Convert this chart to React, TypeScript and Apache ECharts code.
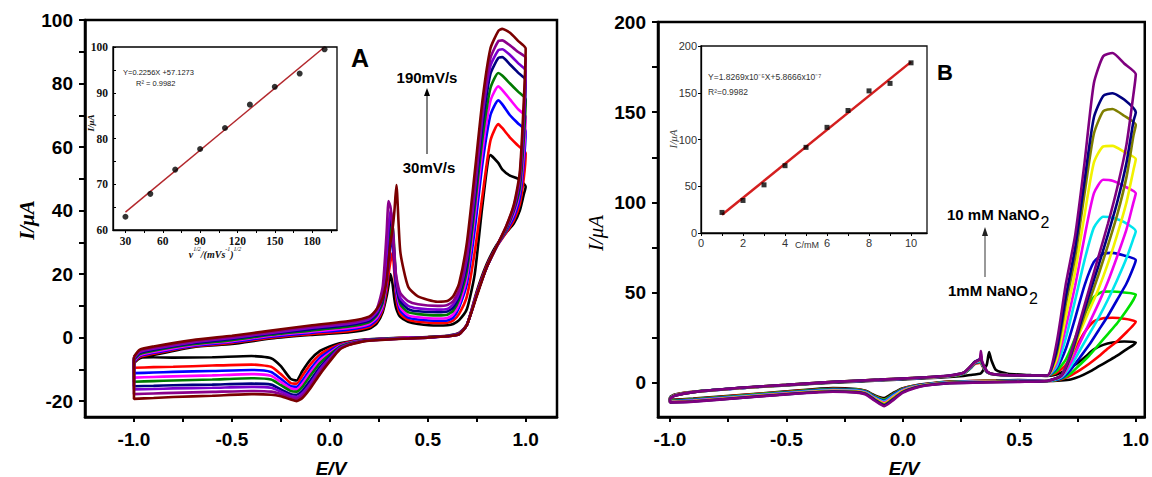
import React, { useEffect, useRef } from 'react';
import * as echarts from 'echarts';

const SANS = '"Liberation Sans", Arial, Helvetica, sans-serif';
const SERIF = '"Liberation Serif", "Times New Roman", serif';

// ---------------- Panel A : scan rates 30..190 mV/s ----------------
const A_RATES = ['30 mV/s', '50 mV/s', '70 mV/s', '90 mV/s', '110 mV/s', '130 mV/s', '150 mV/s', '170 mV/s', '190 mV/s'];
const A_COLORS = ['#000000', '#ff0000', '#0000ff', '#ff00ff', '#007a00', '#000080', '#7b00d0', '#8b008b', '#7a0000'];
// forward (anodic) sweep potentials, V
const A_E_FWD = [-1.0, -0.97, -0.9, -0.7, -0.5, -0.3, -0.1, 0.1, 0.2, 0.24, 0.27, 0.29, 0.3, 0.31, 0.32, 0.33, 0.34, 0.36, 0.4, 0.45, 0.55, 0.6, 0.63, 0.66, 0.7, 0.74, 0.78, 0.82, 0.86, 0.88, 0.92, 0.96, 1.0];
// reverse (cathodic) sweep potentials, V
const A_E_REV = [0.99, 0.97, 0.94, 0.9, 0.85, 0.8, 0.75, 0.7, 0.66, 0.6, 0.5, 0.4, 0.3, 0.2, 0.15, 0.1, 0.05, 0.0, -0.05, -0.1, -0.14, -0.17, -0.2, -0.25, -0.3, -0.4, -0.6, -0.8, -0.9, -1.0];
const A_FWD = [
  [-8, -6.5, -5.5, -3, -2, -0.3, 0.8, 1.7, 2.8, 4.5, 8, 13, 16.5, 20, 17, 12, 9, 6.5, 5, 4.3, 3.8, 3.9, 4.3, 5.5, 9, 20, 42, 57.5, 55, 53, 51, 50, 47.5],
  [-7.8, -6.1, -5.1, -2.8, -1.7, 0, 1.1, 2.1, 3.3, 5.2, 8.8, 15, 20, 24, 26.7, 20, 12, 7.5, 5.6, 5, 4.6, 4.7, 5.4, 7.5, 13, 27, 45, 62, 67.2, 66, 63, 60.5, 58],
  [-7.6, -5.8, -4.8, -2.6, -1.4, 0.3, 1.5, 2.6, 3.8, 5.8, 9.5, 17, 23, 28.5, 30.5, 23, 14, 8.5, 6.3, 5.7, 5.3, 5.4, 6.3, 9.5, 17, 34, 55, 70, 74.7, 73.5, 70, 67.5, 65],
  [-7.3, -5.5, -4.5, -2.4, -1.1, 0.6, 1.8, 3.0, 4.3, 6.3, 10, 18, 25, 31, 33, 25, 15.5, 9.5, 7, 6.4, 6, 6.2, 7.3, 10.5, 19, 38, 59, 74.5, 79.1, 78, 75, 72, 69.5],
  [-7, -5.2, -4.1, -2.1, -0.8, 0.9, 2.2, 3.5, 4.8, 7, 11, 20, 28, 34, 36, 27, 17, 10.5, 8, 7.4, 7, 7.2, 8.5, 12, 21, 41, 63, 78.5, 83.3, 82.5, 80, 77.5, 75],
  [-6.8, -4.8, -3.8, -1.8, -0.4, 1.2, 2.6, 4.0, 5.3, 7.5, 12, 24, 33, 38, 34, 24, 16.5, 11.5, 9, 8.3, 8, 8.2, 9.5, 13, 23, 44, 67, 83, 88, 88.3, 86, 83.5, 81],
  [-6.5, -4.5, -3.5, -1.5, -0.1, 1.5, 3.0, 4.4, 5.8, 8, 13, 26, 35, 40, 36, 26, 18, 12.5, 10, 9.2, 8.8, 9, 10.5, 14, 25, 46, 70, 85.5, 90.5, 90.8, 89, 86.5, 84],
  [-6.2, -4.2, -3.2, -1.2, 0.2, 1.8, 3.4, 4.8, 6.2, 9, 16, 33, 43, 41, 35, 25, 19, 14, 11.5, 10.5, 10, 10.3, 11.5, 15, 26, 48, 72, 88, 93.3, 93.6, 92, 90, 88],
  [-6, -3.8, -2.8, -0.8, 0.6, 2.2, 3.8, 5.2, 6.6, 9, 12.5, 18, 24, 30, 34, 40, 48, 27, 16, 13, 11.3, 11.5, 13, 17, 30, 52, 75, 91, 96.5, 97.2, 96, 93.5, 91],
];
const A_REV = [
  [45, 40, 36, 33, 29, 23, 14.5, 4, 1.5, 0.6, 0.2, 0, -0.2, -0.5, -0.8, -1.2, -1.8, -2.8, -4.2, -7, -10.5, -13.5, -13, -9, -6.5, -5.8, -6.2, -6.3, -6.2, -6.5],
  [50, 42, 37, 33, 28.5, 22.5, 14, 4, 1.4, 0.5, 0.2, 0, -0.3, -0.6, -0.9, -1.4, -2.2, -3.5, -5.3, -8.5, -12, -14.5, -14.3, -11.5, -9.2, -8.5, -8.8, -9.2, -9.3, -9.5],
  [55, 44, 38, 33.5, 28.5, 22, 13.5, 4, 1.3, 0.5, 0.1, -0.1, -0.3, -0.7, -1, -1.6, -2.5, -4.2, -6.3, -10, -13.5, -15.5, -15.3, -13, -10.8, -10.2, -10.5, -10.8, -11, -11.2],
  [58, 46, 39, 34, 28.5, 22, 13.5, 4, 1.2, 0.5, 0.1, -0.1, -0.4, -0.7, -1.1, -1.7, -2.7, -4.8, -7.2, -11, -14.5, -16.3, -16, -14, -12, -11.5, -11.9, -12.2, -12.4, -12.6],
  [62, 47, 40, 34, 28.5, 22, 13.5, 4, 1.2, 0.5, 0.1, -0.2, -0.4, -0.8, -1.2, -1.8, -2.9, -5.3, -8, -12, -15.5, -17, -16.8, -15, -13.2, -12.8, -13.2, -13.5, -13.7, -13.9],
  [66, 49, 40.5, 34.5, 28.5, 22, 13.5, 4, 1.1, 0.4, 0.1, -0.2, -0.5, -0.8, -1.3, -2, -3.2, -6, -9.3, -13.5, -16.8, -18, -17.8, -16.3, -14.8, -14.5, -14.8, -15, -15.2, -15.3],
  [68, 50, 41, 34.5, 28.5, 22, 13.5, 4, 1.1, 0.4, 0, -0.2, -0.5, -0.9, -1.4, -2.1, -3.4, -6.5, -10, -14.5, -17.5, -18.7, -18.4, -17, -15.8, -15.5, -15.8, -16, -16.2, -16.3],
  [70, 51, 41.5, 35, 28.5, 22, 13.5, 4, 1, 0.4, 0, -0.3, -0.5, -0.9, -1.4, -2.2, -3.6, -7, -10.8, -15.3, -18.3, -19.3, -19, -17.8, -17, -16.8, -17.1, -17.4, -17.6, -17.8],
  [74, 52, 42, 35, 28.5, 22, 13, 4, 1, 0.4, 0, -0.3, -0.6, -1, -1.5, -2.3, -3.8, -7.5, -11.5, -16, -19, -20, -19.5, -18.5, -18, -17.8, -18.3, -18.7, -19, -19.3],
];

// ---------------- Panel B : NaNO2 1..10 mM ----------------
const B_CONC = ['1 mM', '2 mM', '3 mM', '4 mM', '5 mM', '6 mM', '7 mM', '8 mM', '9 mM', '10 mM'];
const B_COLORS = ['#000000', '#ff0000', '#00e000', '#0000cd', '#00e5ee', '#ee00ee', '#f2f200', '#7f7f00', '#00007f', '#7f007f'];
const B_E_FWD = [-1.0, -0.98, -0.9, -0.7, -0.5, -0.3, -0.1, 0.1, 0.2, 0.26, 0.29, 0.31, 0.33, 0.335, 0.34, 0.36, 0.37, 0.38, 0.4, 0.45, 0.55, 0.62, 0.66, 0.7, 0.74, 0.78, 0.82, 0.86, 0.9, 0.95, 1.0];
const B_E_REV = [0.99, 0.96, 0.92, 0.88, 0.84, 0.8, 0.76, 0.72, 0.68, 0.62, 0.5, 0.4, 0.3, 0.2, 0.1, 0.05, 0.0, -0.04, -0.08, -0.12, -0.16, -0.2, -0.3, -0.5, -0.7, -0.9, -1.0];
const B_FWD = [
  [-8, -6.5, -5, -3, -1.5, 0, 1.2, 2.5, 3.2, 3.8, 4.3, 4.6, 5, 5.3, 6, 10, 17, 12.5, 7, 5, 4.2, 3.8, 4.5, 7, 10, 14, 18.5, 21, 22.3, 22.9, 22.5],
  [-8.2, -6.7, -5, -2.9, -1.3, 0.3, 1.5, 2.8, 3.6, 5, 8, 10.5, 11, 12, 9.5, 6, 5.2, 4.8, 4.5, 4.1, 3.9, 3.9, 5.5, 10, 19, 28, 34, 35.8, 36, 35.5, 34],
  [-8.3, -6.8, -5.1, -3, -1.3, 0.3, 1.5, 2.8, 3.6, 5, 8, 10.8, 11.5, 12.5, 10, 6, 5.2, 4.8, 4.5, 4.1, 3.9, 3.9, 6.5, 13, 25, 38, 47.5, 50.5, 50.6, 50, 49],
  [-8.4, -6.9, -5.1, -3, -1.3, 0.3, 1.5, 2.8, 3.7, 5.1, 8.2, 11, 11.8, 13, 10.2, 6, 5.2, 4.8, 4.5, 4.1, 3.9, 3.9, 8, 19, 36, 54, 67, 71.5, 72, 70.5, 68],
  [-8.5, -7, -5.2, -3, -1.3, 0.4, 1.6, 2.9, 3.8, 5.2, 8.4, 11.2, 12, 13.5, 10.4, 6.1, 5.3, 4.9, 4.6, 4.2, 4, 4, 9, 25, 46, 68, 86, 92, 91.5, 89, 84],
  [-8.6, -7, -5.2, -3, -1.3, 0.4, 1.6, 2.9, 3.8, 5.3, 8.6, 11.4, 12.5, 16, 11, 6.2, 5.3, 4.9, 4.6, 4.2, 4, 4, 11, 31, 54, 81, 105, 112.5, 112, 109, 105],
  [-8.6, -7.1, -5.2, -2.9, -1.2, 0.5, 1.7, 3, 3.9, 5.4, 8.8, 11.5, 12.5, 14, 10.8, 6.2, 5.4, 5, 4.6, 4.2, 4, 4, 13, 37, 62, 93, 122, 131, 131.3, 128, 124],
  [-8.7, -7.1, -5.2, -2.9, -1.2, 0.5, 1.7, 3, 3.9, 5.5, 9, 11.7, 12.8, 14.5, 11, 6.3, 5.4, 5, 4.6, 4.2, 4, 4, 16, 44, 70, 105, 138, 150.5, 151.8, 148, 143],
  [-8.7, -7.2, -5.2, -2.8, -1.2, 0.5, 1.7, 3, 4, 5.5, 9, 11.8, 13, 15, 11.2, 6.4, 5.5, 5, 4.6, 4.2, 4, 4, 18, 48, 75, 112, 147, 159, 160.5, 157, 150],
  [-8.8, -7.2, -5.2, -2.8, -1.2, 0.5, 1.7, 3, 4, 5.5, 9, 11.5, 13, 17.5, 12, 6.5, 5.5, 5, 4.6, 4.2, 4, 4, 22, 55, 82, 122, 166, 181, 182.8, 177, 171],
];
const B_REV = [
  [21, 18.5, 15, 12, 9, 6, 3.5, 1.8, 1.3, 1, 1.5, 1.2, 1, 0.6, -0.6, -1.5, -3, -5.5, -8.5, -7, -4.5, -3.5, -3, -4.8, -6.8, -8.8, -9.5],
  [32, 28, 23, 19, 14.5, 10.5, 7, 4, 2, 1, 1.3, 1.1, 0.9, 0.5, -0.7, -1.7, -3.3, -6, -9.3, -7.5, -4.7, -3.7, -3.3, -5, -7, -9, -9.8],
  [46, 40, 33, 27, 21, 15, 10, 5, 2.2, 1, 1.2, 1, 0.8, 0.4, -0.8, -1.8, -3.5, -6.2, -9.5, -7.6, -4.8, -3.8, -3.5, -5.2, -7.2, -9.2, -10],
  [64, 55, 46, 37, 29, 21, 14, 7, 2.5, 1, 1.1, 0.9, 0.7, 0.3, -0.9, -2, -3.7, -6.5, -10, -8, -5, -4, -3.8, -5.5, -7.5, -9.5, -10.3],
  [80, 69, 57, 46, 36, 27, 18, 9, 3, 1, 1, 0.8, 0.6, 0.2, -1, -2.1, -4, -7, -10.5, -8.3, -5.3, -4.3, -4, -5.7, -7.7, -9.7, -10.5],
  [100, 85, 70, 56, 44, 33, 22, 11, 3.5, 1, 0.9, 0.7, 0.5, 0.1, -1.1, -2.3, -4.3, -7.5, -11, -8.7, -5.6, -4.6, -4.3, -5.9, -7.9, -9.9, -10.6],
  [118, 100, 82, 66, 52, 40, 28, 14, 4, 1, 0.8, 0.6, 0.4, 0, -1.2, -2.5, -4.6, -8, -11.5, -9, -5.8, -4.8, -4.5, -6.1, -8.1, -10.1, -10.7],
  [137, 114, 93, 76, 60, 45, 30, 14, 4, 1, 0.7, 0.5, 0.3, -0.1, -1.3, -2.7, -4.9, -8.5, -12, -9.3, -6, -5, -4.7, -6.3, -8.3, -10.3, -10.8],
  [145, 122, 100, 82, 65, 49, 32, 15, 4, 1, 0.6, 0.4, 0.1, -0.2, -1.4, -2.8, -5.2, -9, -12.5, -9.6, -6.2, -5.2, -4.9, -6.4, -8.4, -10.4, -10.9],
  [160, 132, 108, 88, 70, 52, 34, 16, 4, 1, 0.5, 0.3, 0, -0.3, -1.5, -3, -5.5, -9.5, -13, -10, -6.5, -5.5, -5, -6.5, -8.5, -10.5, -11],
];

// ---------------- Insets ----------------
const IA_X = [30, 50, 70, 90, 110, 130, 150, 170, 190];
const IA_Y = [62.9, 67.9, 73.2, 77.7, 82.3, 87.4, 91.3, 94.2, 99.5];
const IA_FIT_X = [30, 190];
const IA_FIT_Y = [63.9, 100.0];
const IB_X = [1, 2, 3, 4, 5, 6, 7, 8, 9, 10];
const IB_Y = [22, 34.8, 51.5, 72, 91.6, 113, 131, 152, 160, 182];
const IB_FIT_X = [1, 10];
const IB_FIT_Y = [19.5, 183];

// ---------------- Ticks ----------------
const E_LABELS = [-1, -0.5, 0, 0.5, 1];
const E_TICKS = [-1, -0.75, -0.5, -0.25, 0, 0.25, 0.5, 0.75, 1];
const A_Y_LABELS = [-20, 0, 20, 40, 60, 80, 100];
const A_Y_TICKS = [-20, -10, 0, 10, 20, 30, 40, 50, 60, 70, 80, 90, 100];
const B_Y_LABELS = [0, 50, 100, 150, 200];
const B_Y_TICKS = [0, 25, 50, 75, 100, 125, 150, 175, 200];
const IA_X_LABELS = [30, 60, 90, 120, 150, 180];
const IA_X_TICKS = [30, 45, 60, 75, 90, 105, 120, 135, 150, 165, 180, 195];
const IA_Y_LABELS = [60, 70, 80, 90, 100];
const IA_Y_TICKS = [60, 65, 70, 75, 80, 85, 90, 95, 100];
const IB_X_LABELS = [0, 2, 4, 6, 8, 10];
const IB_X_TICKS = [0, 1, 2, 3, 4, 5, 6, 7, 8, 9, 10];
const IB_Y_LABELS = [0, 50, 100, 150, 200];

function loop(eF: number[], iF: number[], eR: number[], iR: number[]) {
  const pts: number[][] = eF.map((e, i) => [e, iF[i]]);
  eR.forEach((e, i) => pts.push([e, iR[i]]));
  pts.push(pts[0]);
  return pts;
}

function mainAxis(grid: number, pos: string, min: number, max: number, ticks: number[], labels: number[], isX: boolean, fmt: (v: number) => string) {
  return {
    gridIndex: grid, type: 'value', position: pos, min, max,
    axisLine: { show: true, onZero: false, lineStyle: { color: '#000', width: 2.5 } },
    axisTick: { show: true, customValues: ticks, length: isX ? 5 : 6, lineStyle: { color: '#000', width: 2 } },
    axisLabel: { customValues: labels, formatter: fmt, color: '#000', fontSize: 19, fontWeight: 'bold', fontFamily: SANS, margin: isX ? 13 : 12 },
    splitLine: { show: false },
  };
}
function insetAxis(grid: number, pos: string, min: number, max: number, ticks: number[], labels: number[], inside: boolean, lab: any) {
  return {
    gridIndex: grid, type: 'value', position: pos, min, max,
    axisLine: { show: true, onZero: false, lineStyle: { color: '#000', width: 1.3 } },
    axisTick: { show: true, inside, customValues: ticks, length: 3, lineStyle: { color: '#000', width: 1 } },
    axisLabel: { customValues: labels, ...lab },
    splitLine: { show: false },
  };
}

function buildOption() {
  const f1 = (v: number) => v.toFixed(1);
  const f0 = (v: number) => String(v);
  const iaLab = { fontFamily: SERIF, fontWeight: 'bold', fontSize: 11.5, color: '#111', margin: 5, formatter: f0 };
  const ibLab = { fontFamily: SANS, fontSize: 11, color: '#333', margin: 4, formatter: f0 };

  const series: any[] = [];
  A_FWD.forEach((arr, k) => {
    series.push({
      type: 'line', name: A_RATES[k], xAxisIndex: 0, yAxisIndex: 0,
      data: loop(A_E_FWD, arr, A_E_REV, A_REV[k]),
      showSymbol: false, smooth: 0.2, lineStyle: { color: A_COLORS[k], width: 2.6 }, itemStyle: { color: A_COLORS[k] },
    });
  });
  B_FWD.forEach((arr, k) => {
    series.push({
      type: 'line', name: B_CONC[k], xAxisIndex: 1, yAxisIndex: 1,
      data: loop(B_E_FWD, arr, B_E_REV, B_REV[k]),
      showSymbol: false, smooth: 0.2, lineStyle: { color: B_COLORS[k], width: 2.6 }, itemStyle: { color: B_COLORS[k] },
    });
  });
  series.push({
    type: 'line', xAxisIndex: 2, yAxisIndex: 2, data: IA_FIT_X.map((x, i) => [x, IA_FIT_Y[i]]),
    showSymbol: false, lineStyle: { color: '#b3282d', width: 1.5 }, z: 3,
  });
  series.push({
    type: 'scatter', xAxisIndex: 2, yAxisIndex: 2, data: IA_X.map((x, i) => [x, IA_Y[i]]),
    symbol: 'circle', symbolSize: 6, itemStyle: { color: '#000' }, z: 4,
  });
  series.push({
    type: 'line', xAxisIndex: 3, yAxisIndex: 3, data: IB_FIT_X.map((x, i) => [x, IB_FIT_Y[i]]),
    showSymbol: false, lineStyle: { color: '#d41f1f', width: 2.5 }, z: 3,
  });
  series.push({
    type: 'scatter', xAxisIndex: 3, yAxisIndex: 3, data: IB_X.map((x, i) => [x, IB_Y[i]]),
    symbol: 'rect', symbolSize: 5, itemStyle: { color: '#000' }, z: 4,
  });

  const txt = (x: number, y: number, style: any, extra: any = {}) => ({ type: 'text', x, y, z: 100, style, ...extra });
  const subRich = {
    m: { fontFamily: SANS, fontWeight: 'bold', fontSize: 15, fill: '#000', verticalAlign: 'top' },
    s: { fontFamily: SANS, fontSize: 16, fill: '#000', verticalAlign: 'top', padding: [7, 0, 0, 1] },
  };

  const graphic: any[] = [
    // main axis titles
    txt(27, 220, { text: 'I/μA', font: `italic bold 21px ${SERIF}`, fill: '#000', align: 'center', verticalAlign: 'middle' }, { rotation: Math.PI / 2 }),
    txt(596, 233, { text: 'I/μA', font: `italic 21px ${SERIF}`, fill: '#000', align: 'center', verticalAlign: 'middle' }, { rotation: Math.PI / 2 }),
    txt(331, 468, { text: 'E/V', font: `italic bold 19px ${SANS}`, fill: '#000', align: 'center', verticalAlign: 'middle' }),
    txt(904, 468, { text: 'E/V', font: `italic bold 19px ${SANS}`, fill: '#000', align: 'center', verticalAlign: 'middle' }),
    // panel letters
    txt(360, 58, { text: 'A', font: `bold 25px ${SANS}`, fill: '#000', align: 'center', verticalAlign: 'middle' }),
    txt(945, 72, { text: 'B', font: `bold 22px ${SANS}`, fill: '#000', align: 'center', verticalAlign: 'middle' }),
    // scan rate annotations
    txt(427, 77, { text: '190mV/s', font: `bold 15px ${SANS}`, fill: '#000', align: 'center', verticalAlign: 'middle' }),
    txt(429, 167, { text: '30mV/s', font: `bold 15px ${SANS}`, fill: '#000', align: 'center', verticalAlign: 'middle' }),
    { type: 'line', z: 100, shape: { x1: 427, y1: 154, x2: 427, y2: 95 }, style: { stroke: '#000', lineWidth: 1 } },
    { type: 'polygon', z: 100, shape: { points: [[424, 96], [430, 96], [427, 88]] }, style: { fill: '#000' } },
    // concentration annotations
    txt(947, 207, { text: '{m|10 mM NaNO}{s|2}', rich: subRich }),
    txt(948, 283, { text: '{m|1mM NaNO}{s|2}', rich: subRich }),
    { type: 'line', z: 100, shape: { x1: 985, y1: 277, x2: 985, y2: 235 }, style: { stroke: '#555', lineWidth: 1.2 } },
    { type: 'polygon', z: 100, shape: { points: [[982, 236], [988, 236], [985, 227]] }, style: { fill: '#222' } },
    // inset A texts
    txt(123, 72, { text: 'Y=0.2256X +57.1273', font: `7.5px ${SANS}`, fill: '#222', align: 'left', verticalAlign: 'middle' }),
    txt(136, 83, { text: 'R² = 0.9982', font: `7.5px ${SANS}`, fill: '#222', align: 'left', verticalAlign: 'middle' }),
    txt(91, 123, { text: 'I/μA', font: `italic bold 9px ${SERIF}`, fill: '#111', align: 'center', verticalAlign: 'middle' }, { rotation: Math.PI / 2 }),
    txt(215, 246, {
      text: '{v|ν}{s|1/2}{v|/(mVs}{s|-1}{v|)}{s|1/2}',
      rich: {
        v: { fontFamily: SERIF, fontStyle: 'italic', fontWeight: 'bold', fontSize: 10, fill: '#111', verticalAlign: 'top', padding: [3, 0, 0, 0] },
        s: { fontFamily: SERIF, fontStyle: 'italic', fontSize: 6, fill: '#111', verticalAlign: 'top' },
      },
      align: 'center',
    }),
    // inset B texts
    txt(708, 77, { text: 'Y=1.8269x10⁻⁵X+5.8666x10⁻⁷', font: `8.5px ${SANS}`, fill: '#333', align: 'left', verticalAlign: 'middle' }),
    txt(708, 92, { text: 'R²=0.9982', font: `8.5px ${SANS}`, fill: '#333', align: 'left', verticalAlign: 'middle' }),
    txt(673, 139, { text: 'I/μA', font: `italic 11px ${SERIF}`, fill: '#444', align: 'center', verticalAlign: 'middle' }, { rotation: Math.PI / 2 }),
    txt(807, 245, { text: 'C/mM', font: `9px ${SANS}`, fill: '#333', align: 'center', verticalAlign: 'middle' }),
  ];

  return {
    animation: false,
    backgroundColor: '#fff',
    grid: [
      { left: 85, top: 20, width: 472, height: 397, show: true, borderColor: '#000', borderWidth: 2.5, backgroundColor: 'transparent' },
      { left: 658, top: 22, width: 487, height: 395, show: true, borderColor: '#000', borderWidth: 2.5, backgroundColor: 'transparent' },
      { left: 113, top: 47, width: 224, height: 183, show: true, borderColor: '#000', borderWidth: 1.3, backgroundColor: '#fff' },
      { left: 701, top: 46, width: 226, height: 187, show: true, borderColor: '#111', borderWidth: 1.3, backgroundColor: '#fff' },
    ],
    xAxis: [
      mainAxis(0, 'bottom', -1.25, 1.16, E_TICKS, E_LABELS, true, f1),
      mainAxis(1, 'bottom', -1.0515, 1.0385, E_TICKS, E_LABELS, true, f1),
      insetAxis(2, 'bottom', 20, 200, IA_X_TICKS, IA_X_LABELS, false, iaLab),
      insetAxis(3, 'bottom', 0, 10.76, IB_X_TICKS, IB_X_LABELS, false, ibLab),
    ],
    yAxis: [
      mainAxis(0, 'left', -25, 100, A_Y_TICKS, A_Y_LABELS, false, f0),
      mainAxis(1, 'left', -19, 200, B_Y_TICKS, B_Y_LABELS, false, f0),
      insetAxis(2, 'left', 60, 100, IA_Y_TICKS, IA_Y_LABELS, true, iaLab),
      insetAxis(3, 'left', 0, 200, IB_Y_LABELS, IB_Y_LABELS, false, ibLab),
    ],
    series,
    graphic,
  };
}

export default function App() {
  const ref = useRef<HTMLDivElement>(null);
  useEffect(() => {
    if (!ref.current) return;
    const chart = echarts.init(ref.current, null, { renderer: 'svg' });
    chart.setOption(buildOption() as any);
    return () => chart.dispose();
  }, []);
  return <div ref={ref} style={{ position: 'fixed', left: 0, top: 0, width: 1152, height: 477, background: '#fff' }} />;
}
